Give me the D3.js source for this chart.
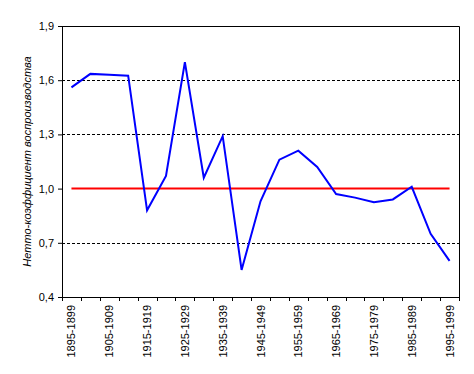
<!DOCTYPE html>
<html>
<head>
<meta charset="utf-8">
<script src="https://cdn.jsdelivr.net/npm/d3@7"></script>
<style>
  body { margin: 0; background: #fff; }
  text { font-family: "Liberation Sans", Arial, sans-serif; }
</style>
</head>
<body>
<div id="chart"></div>
<script>
// data
var periods = ["1895-1899", "1900-1904", "1905-1909", "1910-1914", "1915-1919",
    "1920-1924", "1925-1929", "1930-1934", "1935-1939", "1940-1944",
    "1945-1949", "1950-1954", "1955-1959", "1960-1964", "1965-1969",
    "1970-1974", "1975-1979", "1980-1984", "1985-1989", "1990-1994", "1995-1999"];
var netRate = [1.56, 1.635, 1.63, 1.625, 0.88, 1.07, 1.70, 1.06, 1.29, 0.55,
    0.93, 1.16, 1.21, 1.12, 0.97, 0.95, 0.925, 0.94, 1.01, 0.75, 0.60];
var levelLine = periods.map(function () { return 1.0; });
var yTicks = [0.4, 0.7, 1.0, 1.3, 1.6, 1.9];
var gridTicks = [0.7, 1.3, 1.6];
var shownLabels = periods.filter(function (d, i) { return i % 2 === 0; });

var margin = { top: 26, right: 15, bottom: 77, left: 62 },
    width = 474 - margin.left - margin.right,
    height = 374 - margin.top - margin.bottom;

var svg = d3.select("#chart").append("svg")
    .attr("width", 474)
    .attr("height", 374)
    .append("g")
    .attr("transform", "translate(" + margin.left + "," + margin.top + ")");

var x = d3.scaleBand()
    .domain(periods)
    .range([0, width]);
var y = d3.scaleLinear()
    .domain([0.4, 1.9])
    .range([height, 0]);

var fmt = function (d) { return d3.format(".1f")(d).replace(".", ","); };
var cx = function (d) { return x(d) + x.bandwidth() / 2; };

// dashed grid lines
svg.selectAll(".grid")
    .data(gridTicks)
    .enter().append("line")
    .attr("x1", 0)
    .attr("x2", width)
    .attr("y1", function (d) { return Math.round(y(d)) + 0.5; })
    .attr("y2", function (d) { return Math.round(y(d)) + 0.5; })
    .attr("stroke", "#000")
    .attr("stroke-dasharray", "3,2");

// top and right border
svg.append("path")
    .attr("d", "M0.5,0.5H" + (width + 0.5) + "V" + height)
    .attr("fill", "none")
    .attr("stroke", "#000");

// y axis
var yAxis = svg.append("g")
    .call(d3.axisLeft(y).tickValues(yTicks).tickFormat(fmt).tickSize(4).tickPadding(4));
yAxis.select(".domain").attr("d", "M0.5,0V" + height);
yAxis.selectAll("text").style("font-size", "11px").attr("fill", "#000");

// x axis: ticks on category boundaries, labels every other period
var xAxis = svg.append("g")
    .attr("transform", "translate(0," + height + ")");
xAxis.append("line")
    .attr("x1", 0).attr("x2", width)
    .attr("y1", 0.5).attr("y2", 0.5)
    .attr("stroke", "#000");
xAxis.selectAll(".tk")
    .data(periods.concat(["end"]))
    .enter().append("line")
    .attr("x1", function (d, i) { return Math.round(i * x.bandwidth()) + 0.5; })
    .attr("x2", function (d, i) { return Math.round(i * x.bandwidth()) + 0.5; })
    .attr("y1", 0)
    .attr("y2", 4)
    .attr("stroke", "#000");
xAxis.selectAll(".lbl")
    .data(shownLabels)
    .enter().append("text")
    .attr("transform", function (d) { return "translate(" + (cx(d) + 4) + ",8)rotate(-90)"; })
    .style("text-anchor", "end")
    .style("font-size", "11px")
    .text(function (d) { return d; });

var line = d3.line()
    .x(function (d, i) { return cx(periods[i]); })
    .y(function (d) { return y(d); });

// reference level 1.0
svg.append("path")
    .datum(levelLine)
    .attr("d", line)
    .attr("fill", "none")
    .attr("stroke", "#ff0000")
    .attr("stroke-width", 2);

// series
svg.append("path")
    .datum(netRate)
    .attr("d", line)
    .attr("fill", "none")
    .attr("stroke", "#0000ff")
    .attr("stroke-width", 2);

// y axis title
svg.append("text")
    .attr("transform", "translate(-31," + (height / 2) + ")rotate(-90)")
    .style("text-anchor", "middle")
    .style("font-size", "11px")
    .style("font-style", "italic")
    .text("Нетто-коэффициент воспроизводства");
</script>
</body>
</html>
